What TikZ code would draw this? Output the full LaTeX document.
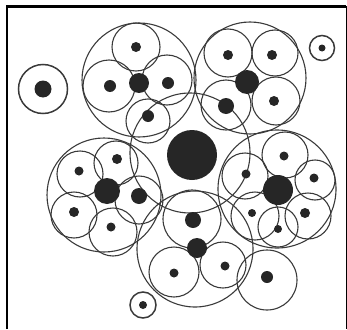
\documentclass[tikz,border=0pt]{standalone}
\usetikzlibrary{calc}
\definecolor{inkcol}{HTML}{3A3A3A}
\definecolor{dotcol}{HTML}{262626}
\tikzset{
    ring/.style={draw=inkcol, line width=1.1pt},
    thickring/.style={draw=inkcol, line width=1.5pt},
    dot/.style={fill=dotcol},
    frame/.style={draw=black, line width=2.2pt},
}

\begin{document}
\begin{tikzpicture}[x=1pt, y=-1pt]
\useasboundingbox (0,0) rectangle (347,329);

% ── Frame ──────────────────────────────────────────────────────────
\draw[frame] (7,329) -- (7,6.5) -- (346,6.5);
\draw[black, line width=1.4pt] (346.3,6.5) -- (346.3,329);

% ── Centre ─────────────────────────────────────────────────────────
\draw[ring] (190,153) circle (60);
\fill[dot] (192,155) circle (25);

% ── Top left cluster ──────────────────────────────────────────────
\draw[ring] (139,80) circle (57);
\foreach \x/\y/\r in {136/47/24, 109/86/26, 167/80/25, 148/121/22}
    \draw[ring] (\x,\y) circle (\r);
\foreach \x/\y/\r in {136/47/5, 110/86/6, 168/83/6, 148/116/6, 139/83/10}
    \fill[dot] (\x,\y) circle (\r);

% ── Top right cluster ─────────────────────────────────────────────
\draw[ring] (250,78) circle (56);
\foreach \x/\y/\r in {228/53/24, 275/53/23, 276/101/24, 226/105/25}
    \draw[ring] (\x,\y) circle (\r);
\foreach \x/\y/\r in {228/55/5, 272/55/5, 274/101/5, 226/106/8, 247/82/12}
    \fill[dot] (\x,\y) circle (\r);

% ── Left cluster ──────────────────────────────────────────────────
\draw[ring] (104,195) circle (57);
\foreach \x/\y/\r in {80/174/23, 116/163/22, 74/215/23, 113/232/24, 139/200/24}
    \draw[ring] (\x,\y) circle (\r);
\foreach \x/\y/\r in {79/171/4.5, 117/159/5, 74/212/5, 111/227/4.5, 139/196/8, 107/191/13}
    \fill[dot] (\x,\y) circle (\r);

% ── Right cluster ─────────────────────────────────────────────────
\draw[ring] (277,189) circle (59);
\foreach \x/\y/\r in {285/155/23, 315/180/20, 308/216/23, 278/227/20, 255/216/24, 245/176/23}
    \draw[ring] (\x,\y) circle (\r);
\foreach \x/\y/\r in {284/156/4.5, 314/178/4.5, 305/213/5, 278/229/4, 252/213/4, 246/174/4.5, 278/190/15}
    \fill[dot] (\x,\y) circle (\r);

% ── Bottom cluster ────────────────────────────────────────────────
\draw[ring] (195,249) circle (58);
\foreach \x/\y/\r in {192/219/29, 174/272/25, 223/265/23, 267/280/30}
    \draw[ring] (\x,\y) circle (\r);
\foreach \x/\y/\r in {193/220/8, 197/248/10, 174/273/4.5, 225/266/4.5, 267/277/6}
    \fill[dot] (\x,\y) circle (\r);

% ── Loose ones ────────────────────────────────────────────────────
\draw[thickring] (43,89) circle (24.5);
\fill[dot] (43,89) circle (8.5);
\draw[thickring] (322,48) circle (12.5);
\fill[dot] (322,48) circle (3.5);
\draw[thickring] (143,305) circle (13);
\fill[dot] (143,305) circle (4);

\end{tikzpicture}
\end{document}
